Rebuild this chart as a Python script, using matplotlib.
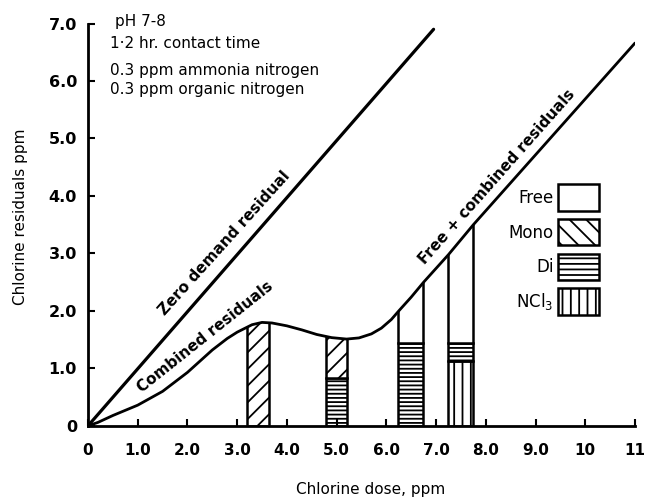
import numpy as np
import matplotlib
matplotlib.use("Agg")
import matplotlib.pyplot as plt
from matplotlib.patches import Patch

plt.rcParams['font.family'] = ['DejaVu Sans']
plt.rcParams['hatch.linewidth'] = 1.3

# zero demand residual (straight line)
zero_x = [0, 6.95]
zero_y = [0, 6.9]

# combined / free+combined residual curve
curve_x = [0, 0.2, 0.5, 1.0, 1.5, 2.0, 2.5, 2.8, 3.0, 3.3, 3.5, 3.7, 4.0, 4.3,
           4.6, 4.9, 5.2, 5.45, 5.7, 5.9, 6.1, 6.25, 6.5, 6.75, 7.0, 7.25,
           7.5, 7.75, 11.0]
curve_y = [0, 0.06, 0.18, 0.36, 0.6, 0.93, 1.32, 1.52, 1.63, 1.76, 1.8, 1.79,
           1.74, 1.67, 1.59, 1.535, 1.51, 1.53, 1.6, 1.7, 1.85, 2.0, 2.24, 2.5,
           2.74, 2.98, 3.24, 3.5, 6.66]

# sampled bars: left edge, right edge, and stacked segments (kind, bottom, top)
bar_left = [3.2, 4.78, 6.24, 7.24]
bar_right = [3.64, 5.2, 6.74, 7.74]
bar_segments = [
    [("Mono", 0, 4)],
    [("Di", 0, 0.83), ("Mono", 0.83, 4)],
    [("Di", 0, 1.45), ("Free", 1.45, 5)],
    [("NCl3", 0, 1.12), ("Di", 1.12, 1.45), ("Free", 1.45, 5)],
]

kinds = ["Free", "Mono", "Di", "NCl3"]
kind_labels = ["Free", "Mono", "Di", "NCl$_3$"]
hatches = {"Free": "", "Mono": "//", "Di": "----", "NCl3": "||"}
legend_hatches = {"Free": "", "Mono": "\\\\", "Di": "---", "NCl3": "||"}

xticks = [0, 1, 2, 3, 4, 5, 6, 7, 8, 9, 10, 11]
xticklabels = ["0", "1.0", "2.0", "3.0", "4.0", "5.0", "6.0", "7.0", "8.0", "9.0", "10", "11"]
yticks = [0, 1, 2, 3, 4, 5, 6, 7]
yticklabels = ["0", "1.0", "2.0", "3.0", "4.0", "5.0", "6.0", "7.0"]

notes = ["pH 7-8", "1·2 hr. contact time", "0.3 ppm ammonia nitrogen",
         "0.3 ppm organic nitrogen"]

fig = plt.figure(figsize=(6.47, 5.01), dpi=100)
ax = fig.add_axes([0.136, 0.150, 0.8454, 0.803])
ax.set_xlim(0, 11)
ax.set_ylim(0, 7)

ax.plot(zero_x, zero_y, color='black', lw=2.3, solid_capstyle='round')
ax.plot(curve_x, curve_y, color='black', lw=2.0, solid_capstyle='round',
        solid_joinstyle='round')

# area under the curve, used to clip the bars
under = ax.fill_between(curve_x, curve_y, 0, facecolor='none', edgecolor='none')
clip = under.get_paths()[0]

for l, r, segs in zip(bar_left, bar_right, bar_segments):
    for kind, b, t in segs:
        bars = ax.bar(l, t - b, width=r - l, bottom=b, align='edge',
                      facecolor='white', edgecolor='black', linewidth=1.8,
                      hatch=hatches[kind], zorder=1)
        for p in bars:
            p.set_clip_path(clip, ax.transData)

# curve labels
ax.text(2.74, 3.17, "Zero demand residual", rotation=48, ha='center', va='center',
        fontsize=11, fontweight='bold')
ax.text(2.36, 1.55, "Combined residuals", rotation=38.5, ha='center', va='center',
        fontsize=11, fontweight='bold')
ax.text(8.22, 4.33, "Free + combined residuals", rotation=48.5, ha='center', va='center',
        fontsize=11, fontweight='bold')

# conditions note
note_x = [0.54, 0.44, 0.44, 0.44]
note_y = [7.03, 6.66, 6.19, 5.86]
for tx, ty, s in zip(note_x, note_y, notes):
    ax.text(tx, ty, s, fontsize=11, ha='left', va='center', clip_on=False)

handles = [Patch(facecolor='white', edgecolor='black', linewidth=1.8,
                 hatch=legend_hatches[k]) for k in kinds]
ax.legend(handles, kind_labels, loc='upper right', bbox_to_anchor=(0.935, 0.60),
          frameon=False, markerfirst=False, handlelength=2.5, handleheight=2.05,
          labelspacing=0.5, handletextpad=0.25, borderpad=0, borderaxespad=0,
          fontsize=12)

for s in ['top', 'right']:
    ax.spines[s].set_visible(False)
for s in ['left', 'bottom']:
    ax.spines[s].set_linewidth(2)

ax.set_xticks(xticks)
ax.set_xticklabels(xticklabels, fontweight='bold', fontsize=11)
ax.set_yticks(yticks)
ax.set_yticklabels(yticklabels, fontweight='bold', fontsize=11.5)
ax.tick_params(axis='both', direction='in', length=5, width=1.5)
ax.tick_params(axis='x', pad=12)
ax.tick_params(axis='y', pad=8)

ax.set_xlabel("Chlorine dose, ppm", fontsize=11)
ax.xaxis.set_label_coords(0.516, -0.139)
ax.set_ylabel("Chlorine residuals ppm", fontsize=11)
ax.yaxis.set_label_coords(-0.109, 0.52)

fig.savefig("out.png", dpi=100)
